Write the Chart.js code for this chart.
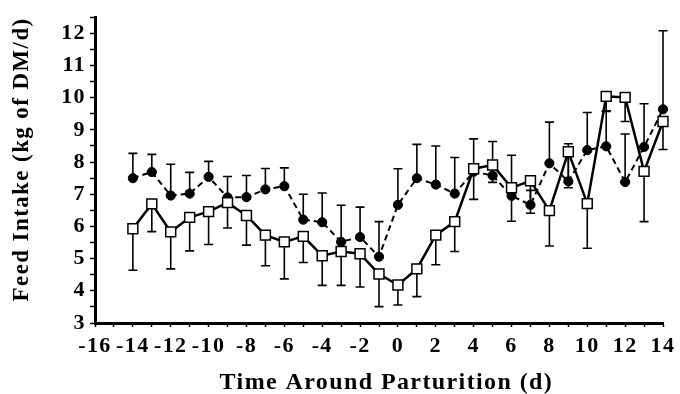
<!DOCTYPE html>
<html>
<head>
<meta charset="utf-8">
<script src="https://cdn.jsdelivr.net/npm/chart.js@4.4.1/dist/chart.umd.min.js"></script>
<style>
  html, body { margin: 0; padding: 0; background: #fff; }
</style>
</head>
<body>
<canvas id="feedChart" width="680" height="394"></canvas>
<script>
// days around parturition
const days = [-14, -13, -12, -11, -10, -9, -8, -7, -6, -5, -4, -3, -2, -1,
  0, 1, 2, 3, 4, 5, 6, 7, 8, 9, 10, 11, 12, 13, 14];

// filled circles, dashed line (error bars drawn upward)
const circleMeans = [7.50, 7.69, 6.96, 7.02, 7.54, 6.90, 6.91, 7.15, 7.25, 6.21, 6.13, 5.52, 5.67, 5.06,
  6.67, 7.50, 7.30, 7.02, 7.70, 7.58, 6.95, 6.67, 7.96, 7.40, 8.37, 8.49, 7.38, 8.47, 9.64];
const circleSE = [0.77, 0.55, 0.97, 0.66, 0.48, 0.65, 0.67, 0.65, 0.57, 0.79, 0.91, 1.14, 0.93, 1.09,
  1.12, 1.05, 1.20, 1.12, 1.02, 1.06, 1.26, 0.45, 1.28, 1.17, 1.17, 1.08, 1.49, 1.34, 2.44];

// open squares, solid line (error bars drawn downward)
const squareMeans = [5.93, 6.70, 5.83, 6.28, 6.46, 6.74, 6.34, 5.73, 5.52, 5.69, 5.09, 5.22, 5.15, 4.52,
  4.18, 4.68, 5.73, 6.15, 7.79, 7.91, 7.20, 7.42, 6.49, 8.32, 6.71, 10.04, 10.01, 7.71, 9.26];
const squareSE = [1.29, 0.86, 1.15, 1.04, 1.02, 0.79, 0.92, 0.95, 1.15, 0.81, 0.92, 1.05, 1.03, 1.01,
  0.62, 0.86, 0.92, 0.93, 0.95, 0.54, 1.04, 1.01, 1.10, 1.12, 1.39, 0.45, 0.75, 1.56, 0.87];

const serif = "'Liberation Serif', 'Times New Roman', serif";

// the printed labels are a bit spaced out
const spacing = {
  id: 'spacing',
  beforeDraw(chart) {
    chart.ctx.letterSpacing = '1.4px';
  }
};

// error bars: circles go up, squares go down
const errorBars = {
  id: 'errorBars',
  beforeDatasetsDraw(chart) {
    const ctx = chart.ctx;
    const xs = chart.scales.x;
    const ys = chart.scales.y;
    ctx.save();
    ctx.strokeStyle = '#000';
    ctx.lineWidth = 1.6;
    const cap = 4.5;
    days.forEach((d, i) => {
      const x = xs.getPixelForValue(d);
      // circles
      let y0 = ys.getPixelForValue(circleMeans[i]);
      let y1 = ys.getPixelForValue(circleMeans[i] + circleSE[i]);
      ctx.beginPath();
      ctx.moveTo(x, y0); ctx.lineTo(x, y1);
      ctx.moveTo(x - cap, y1); ctx.lineTo(x + cap, y1);
      ctx.stroke();
      // squares
      y0 = ys.getPixelForValue(squareMeans[i]);
      y1 = ys.getPixelForValue(squareMeans[i] - squareSE[i]);
      ctx.beginPath();
      ctx.moveTo(x, y0); ctx.lineTo(x, y1);
      ctx.moveTo(x - cap, y1); ctx.lineTo(x + cap, y1);
      ctx.stroke();
    });
    ctx.restore();
  }
};

new Chart(document.getElementById('feedChart'), {
  type: 'line',
  data: {
    labels: days,
    datasets: [
      {
        label: 'Squares',
        data: days.map((d, i) => ({ x: d, y: squareMeans[i] })),
        borderColor: '#000',
        borderWidth: 2.5,
        pointStyle: 'rect',
        pointRadius: 7,
        pointBackgroundColor: '#fff',
        pointBorderColor: '#000',
        pointBorderWidth: 1.5,
        tension: 0,
        clip: false,
        order: 0
      },
      {
        label: 'Circles',
        data: days.map((d, i) => ({ x: d, y: circleMeans[i] })),
        borderColor: '#000',
        borderWidth: 2,
        borderDash: [6, 4],
        pointStyle: 'circle',
        pointRadius: 4.6,
        pointBackgroundColor: '#000',
        pointBorderColor: '#000',
        pointBorderWidth: 1,
        tension: 0,
        clip: false,
        order: 1
      }
    ]
  },
  options: {
    responsive: false,
    animation: false,
    events: [],
    layout: { padding: { top: 11, right: 13, left: 0, bottom: 0 } },
    plugins: {
      legend: { display: false },
      tooltip: { enabled: false }
    },
    scales: {
      x: {
        type: 'linear',
        min: -16,
        max: 14,
        afterFit(scale) { scale.height = 71; },
        grid: { drawOnChartArea: false, drawTicks: true, tickLength: 4, tickColor: '#000', tickWidth: 1.5 },
        border: { color: '#000', width: 3 },
        ticks: {
          stepSize: 1,
          autoSkip: false,
          maxRotation: 0,
          padding: 6,
          color: '#000',
          font: { family: serif, size: 22, weight: 'bold' },
          callback: v => (v % 2 === 0 ? String(v) : '')
        },
        title: {
          display: true,
          // leading spaces nudge the centred title a little to the right
          text: '  Time Around Parturition (d)',
          color: '#000',
          font: { family: serif, size: 24, weight: 'bold' },
          padding: { top: 0, bottom: -3 }
        }
      },
      y: {
        min: 3,
        max: 12.5,
        afterFit(scale) { scale.width = 95; },
        grid: { drawOnChartArea: false, drawTicks: true, tickLength: 5, tickColor: '#000', tickWidth: 1.5 },
        border: { color: '#000', width: 3 },
        ticks: {
          stepSize: 0.5,
          autoSkip: false,
          padding: 4,
          color: '#000',
          font: { family: serif, size: 22, weight: 'bold' },
          callback: v => (Number.isInteger(v) && v <= 12 ? String(v) : '')
        },
        title: {
          display: true,
          // leading spaces lift the rotated title a little
          text: '   Feed Intake (kg of DM/d)',
          color: '#000',
          font: { family: serif, size: 23, weight: 'bold' },
          padding: { top: 8, bottom: 0 }
        }
      }
    }
  },
  plugins: [spacing, errorBars]
});
</script>
</body>
</html>
